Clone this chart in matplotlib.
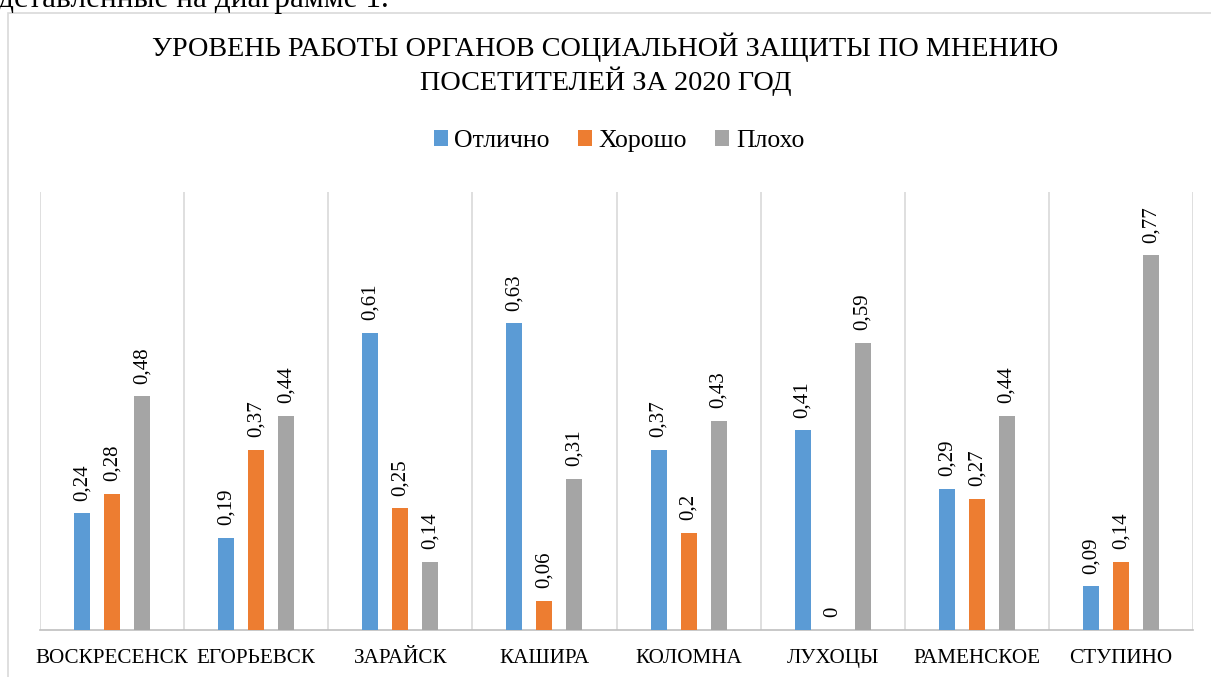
import matplotlib.pyplot as plt
import numpy as np
from matplotlib.patches import Rectangle

plt.rcParams['font.family'] = ['Liberation Serif', 'DejaVu Serif']

cities = ['ВОСКРЕСЕНСК', 'ЕГОРЬЕВСК', 'ЗАРАЙСК', 'КАШИРА',
          'КОЛОМНА', 'ЛУХОЦЫ', 'РАМЕНСКОЕ', 'СТУПИНО']
excellent = [0.24, 0.19, 0.61, 0.63, 0.37, 0.41, 0.29, 0.09]
good = [0.28, 0.37, 0.25, 0.06, 0.2, 0, 0.27, 0.14]
bad = [0.48, 0.44, 0.14, 0.31, 0.43, 0.59, 0.44, 0.77]
series_names = ['Отлично', 'Хорошо', 'Плохо']
colors = ['#5B9BD5', '#ED7D31', '#A5A5A5']

W, H = 1211, 677
fig = plt.figure(figsize=(W / 100, H / 100), dpi=100)

# chart frame (cut by the page edge on the right and bottom)
fig.patches.append(Rectangle((8 / W, -0.01), 1.1, 1 - 13 / H + 0.01,
                             transform=fig.transFigure, fill=False,
                             edgecolor='#D9D9D9', linewidth=1.2))
# line of document text above the chart, cut by the top edge
fig.text(-2 / W, 1 - 7 / H, 'дставленные на диаграмме 1.', fontsize=22.5,
         va='baseline', ha='left')

ax = fig.add_axes([40 / W, 1 - 630 / H, (1193 - 40) / W, (630 - 192) / H])
x = np.arange(len(cities))
width = 0.111
offsets = [-0.208, 0, 0.208]
for vals, name, col, off in zip([excellent, good, bad], series_names, colors, offsets):
    bars = ax.bar(x + off, vals, width, color=col, label=name, zorder=3)
    for b, v in zip(bars, vals):
        ax.text(b.get_x() + b.get_width() / 2, v + 0.026,
                ('%g' % v).replace('.', ','), rotation=90,
                ha='center', va='bottom', fontsize=15)

ax.set_xlim(-0.5, len(cities) - 0.5)
ax.set_ylim(0, 0.9)
ax.set_yticks([])
ax.set_xticks(x)
ax.set_xticklabels(cities, fontsize=15.2)
ax.tick_params(axis='x', length=0, pad=14)
for b in np.arange(-0.5, len(cities), 1):
    ax.axvline(b, color='#D9D9D9', linewidth=1.2, zorder=1)
for s in ['top', 'right', 'left']:
    ax.spines[s].set_visible(False)
ax.spines['bottom'].set_color('#BFBFBF')
ax.spines['bottom'].set_linewidth(1.2)

fig.text(0.5, 1 - 64 / H,
         'УРОВЕНЬ РАБОТЫ ОРГАНОВ СОЦИАЛЬНОЙ ЗАЩИТЫ ПО МНЕНИЮ\nПОСЕТИТЕЛЕЙ ЗА 2020 ГОД',
         ha='center', va='center', fontsize=20.3, linespacing=1.2)

fig.legend(loc='center', bbox_to_anchor=(619 / W, 1 - 141 / H), ncol=3,
           frameon=False, fontsize=18.5, handlelength=0.55, handleheight=0.55,
           handletextpad=0.25, columnspacing=1.1)

fig.savefig('out.png', dpi=100)
